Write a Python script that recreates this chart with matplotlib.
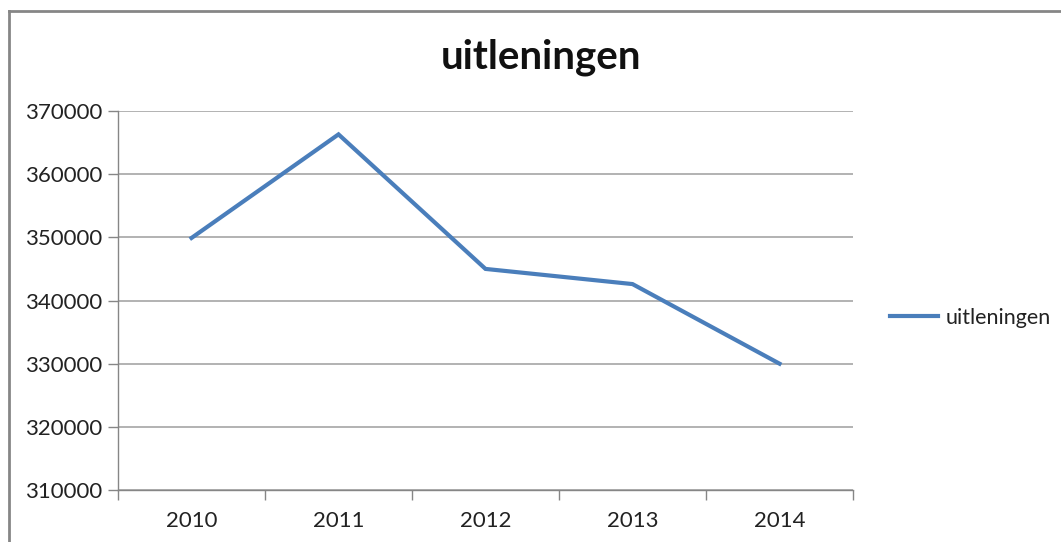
import matplotlib
matplotlib.use('Agg')
import matplotlib.pyplot as plt
from matplotlib.lines import Line2D

years = ['2010', '2011', '2012', '2013', '2014']
uitleningen = [349900, 366300, 345000, 342600, 330000]
y_ticks = [310000, 320000, 330000, 340000, 350000, 360000, 370000]

plt.rcParams['font.family'] = ['Lato', 'DejaVu Sans']

W, H = 1061, 542
fig = plt.figure(figsize=(W / 100, H / 100), dpi=100)

# plot area in pixel terms, converted to figure fractions
left, right, top, bottom = 118, 853, 111, 490
ax = fig.add_axes([left / W, (H - bottom) / H, (right - left) / W, (bottom - top) / H])

x = [i + 0.5 for i in range(len(years))]
ax.plot(x, uitleningen, color='#4a7ebb', linewidth=3, solid_joinstyle='miter',
        label='uitleningen')

ax.set_xlim(0, len(years))
ax.set_ylim(y_ticks[0], y_ticks[-1])
ax.set_yticks(y_ticks)
ax.set_yticklabels([str(v) for v in y_ticks])
ax.set_xticks(range(len(years) + 1))
ax.set_xticklabels([])
ax.set_xticks(x, minor=True)
ax.set_xticklabels(years, minor=True)
ax.tick_params(axis='x', which='minor', length=0, pad=15, labelsize=16, colors='#222222')
ax.tick_params(axis='x', which='major', length=7, width=1, color='#868686')
ax.tick_params(axis='y', length=7, width=1, color='#868686', pad=4,
               labelsize=16, labelcolor='#222222')

ax.grid(axis='y', color='#a6a6a6', linewidth=1.2)
ax.set_axisbelow(True)
for side in ['top', 'right']:
    ax.spines[side].set_visible(False)
for side in ['left', 'bottom']:
    ax.spines[side].set_color('#868686')
    ax.spines[side].set_linewidth(1)

fig.text(541 / W, 1 - 57 / H, 'uitleningen', ha='center', va='center',
         fontsize=29, fontweight='bold', color='#111111')

fig.legend(handles=[Line2D([], [], color='#4a7ebb', linewidth=3)],
           labels=['uitleningen'], loc='center left',
           bbox_to_anchor=(871 / W, 1 - 318 / H), frameon=False,
           fontsize=15.5, handlelength=2.2, handletextpad=0.35,
           labelcolor='#222222')

# outer chart frame (left and top edges visible)
fig.add_artist(Line2D([9 / W, 9 / W], [0, 1 - 11 / H], transform=fig.transFigure,
                      color='#868686', linewidth=2))
fig.add_artist(Line2D([9 / W, 1], [1 - 11 / H, 1 - 11 / H], transform=fig.transFigure,
                      color='#868686', linewidth=2))

fig.savefig('out.png', dpi=100)
